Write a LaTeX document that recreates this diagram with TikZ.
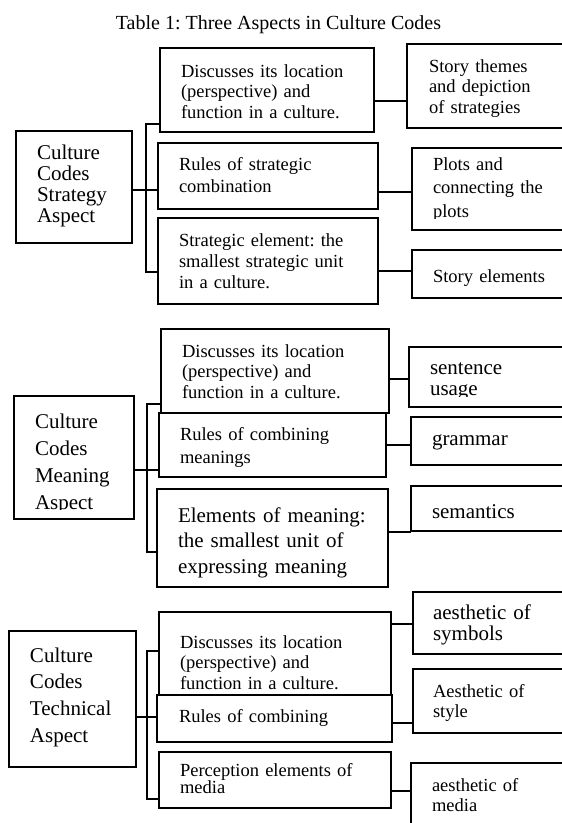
\documentclass[tikz,border=0pt]{standalone}
\usepackage{fontspec}
\setmainfont{Liberation Serif}
\frenchspacing
\newcommand{\fsz}[2]{\fontsize{#1}{#2}\selectfont\lineskiplimit=-50pt\relax}
\begin{document}
\begin{tikzpicture}[x=1pt,y=-1pt,
  bx/.style={draw, line width=1.25pt, inner sep=0pt, outer sep=0pt, anchor=north west},
  ln/.style={line width=1.25pt},
  tx/.style={anchor=base west, inner sep=0pt, outer sep=0pt, align=left, text width=240pt},
  sA/.style={font=\fsz{18.5}{20.5}},
  sB/.style={font=\fsz{21}{21}}]
\useasboundingbox (0,0) rectangle (562,823);
\clip (0,0) rectangle (562,823);

% title
\node[anchor=base, inner sep=0pt, font=\fsz{20}{22}] (title) at (278.5,29) {Table 1: Three Aspects in Culture Codes};

% ---------------- Section 1 ----------------
\node[bx, minimum width=116pt, minimum height=112pt] (L1) at (16,131) {};
\node[bx, minimum width=214pt, minimum height=84pt] (M1a) at (160,48) {};
\node[bx, minimum width=220pt, minimum height=66pt] (M1b) at (158,143) {};
\node[bx, minimum width=220pt, minimum height=86pt] (M1c) at (158,218) {};
\node[bx, minimum width=175pt, minimum height=84pt] (R1a) at (407,44) {};
\node[bx, minimum width=170pt, minimum height=82pt] (R1b) at (412,148) {};
\node[bx, minimum width=170pt, minimum height=48pt] (R1c) at (412,250) {};

\node[tx, font=\fsz{21}{21}] (tL1) at (37,159) {Culture\\Codes\\Strategy\\Aspect};
\node[tx, sA] (tM1a) at (181,77) {Discusses its location\\(perspective) and\\function in a culture.};
\node[tx, font=\fsz{18.5}{22}] (tM1b) at (179,170) {Rules of strategic\\combination};
\node[tx, font=\fsz{18.5}{21}] (tM1c) at (179,246) {Strategic element: the\\smallest strategic unit\\in a culture.};
\node[tx, sA] (tR1a) at (429,72) {Story themes\\and depiction\\of strategies};
\begin{scope}
\clip (400,140) rectangle (570,218);
\node[tx, font=\fsz{18.5}{23.5}] (tR1b) at (433,170) {Plots and\\connecting the\\plots};
\end{scope}
\node[tx, sA] (tR1c) at (433,282) {Story elements};

\coordinate (b1) at (146,190);
\draw[ln] (M1a.west |- 0,124) -| (b1) |- (M1c.west |- 0,272);
\draw[ln] (L1.east |- b1) -- (M1b.west |- b1);
\draw[ln] (M1a.east |- 0,101) -- (R1a.west |- 0,101);
\draw[ln] (M1b.east |- 0,192) -- (R1b.west |- 0,192);
\draw[ln] (M1c.east |- 0,271) -- (R1c.west |- 0,271);

% ---------------- Section 2 ----------------
\node[bx, minimum width=120pt, minimum height=123pt] (L2) at (14,396) {};
\node[bx, minimum width=228pt, minimum height=84pt] (M2a) at (161,329) {};
\node[bx, minimum width=227pt, minimum height=64pt] (M2b) at (159,413) {};
\node[bx, minimum width=231pt, minimum height=98pt] (M2c) at (157,489) {};
\node[bx, minimum width=175pt, minimum height=60pt] (R2a) at (409,347) {};
\node[bx, minimum width=170pt, minimum height=48pt] (R2b) at (411,417) {};
\node[bx, minimum width=170pt, minimum height=45pt] (R2c) at (411,486) {};

\begin{scope}
\clip (10,390) rectangle (140,509.5);
\node[tx, font=\fsz{21}{27}] (tL2) at (35,428) {Culture\\Codes\\Meaning\\Aspect};
\end{scope}
\node[tx, sA] (tM2a) at (182,357) {Discusses its location\\(perspective) and\\function in a culture.};
\node[tx, font=\fsz{18.5}{23}] (tM2b) at (180,440) {Rules of combining\\meanings};
\node[tx, font=\fsz{21}{25.5}] (tM2c) at (178,522) {Elements of meaning:\\the smallest unit of\\expressing meaning};
\begin{scope}
\clip (405,340) rectangle (570,396);
\node[tx, sB] (tR2a) at (430,374) {sentence\\usage};
\end{scope}
\node[tx, sB] (tR2b) at (432,445) {grammar};
\node[tx, sB] (tR2c) at (432,518) {semantics};

\coordinate (b2) at (147,470);
\draw[ln] (M2a.west |- 0,404) -| (b2) |- (M2c.west |- 0,552);
\draw[ln] (L2.east |- b2) -- (M2b.west |- b2);
\draw[ln] (M2a.east |- 0,379) -- (R2a.west |- 0,379);
\draw[ln] (M2b.east |- 0,445) -- (R2b.west |- 0,445);
\draw[ln] (M2c.east |- 0,532) -- (R2c.west |- 0,532);

% ---------------- Section 3 ----------------
\node[bx, minimum width=127pt, minimum height=136pt] (L3) at (9,631) {};
\node[bx, minimum width=232pt, minimum height=83pt] (M3a) at (159,612) {};
\node[bx, minimum width=235pt, minimum height=47pt] (M3b) at (157,695) {};
\node[bx, minimum width=232pt, minimum height=56pt] (M3c) at (159,752) {};
\node[bx, minimum width=170pt, minimum height=62pt] (R3a) at (413,592) {};
\node[bx, minimum width=170pt, minimum height=64pt] (R3b) at (413,669) {};
\node[bx, minimum width=170pt, minimum height=80pt] (R3c) at (411,763) {};

\node[tx, font=\fsz{21}{26.7}] (tL3) at (30,662) {Culture\\Codes\\Technical\\Aspect};
\node[tx, sA] (tM3a) at (180,648) {Discusses its location\\(perspective) and\\function in a culture.};
\node[tx, sA] (tM3b) at (179,722) {Rules of combining};
\node[tx, font=\fsz{18.5}{17.5}] (tM3c) at (180,776) {Perception elements of\\media};
\node[tx, sB] (tR3a) at (433,619) {aesthetic of\\symbols};
\node[tx, font=\fsz{18.5}{20}] (tR3b) at (433,697) {Aesthetic of\\style};
\node[tx, font=\fsz{18.5}{20}] (tR3c) at (432,791) {aesthetic of\\media};

\coordinate (b3) at (147,717);
\draw[ln] (M3a.west |- 0,651) -| (b3) |- (M3c.west |- 0,799);
\draw[ln] (L3.east |- b3) -- (M3b.west |- b3);
\draw[ln] (M3a.east |- 0,624) -- (R3a.west |- 0,624);
\draw[ln] (M3b.east |- 0,723) -- (R3b.west |- 0,723);
\draw[ln] (M3c.east |- 0,791) -- (R3c.west |- 0,791);
\end{tikzpicture}
\end{document}
